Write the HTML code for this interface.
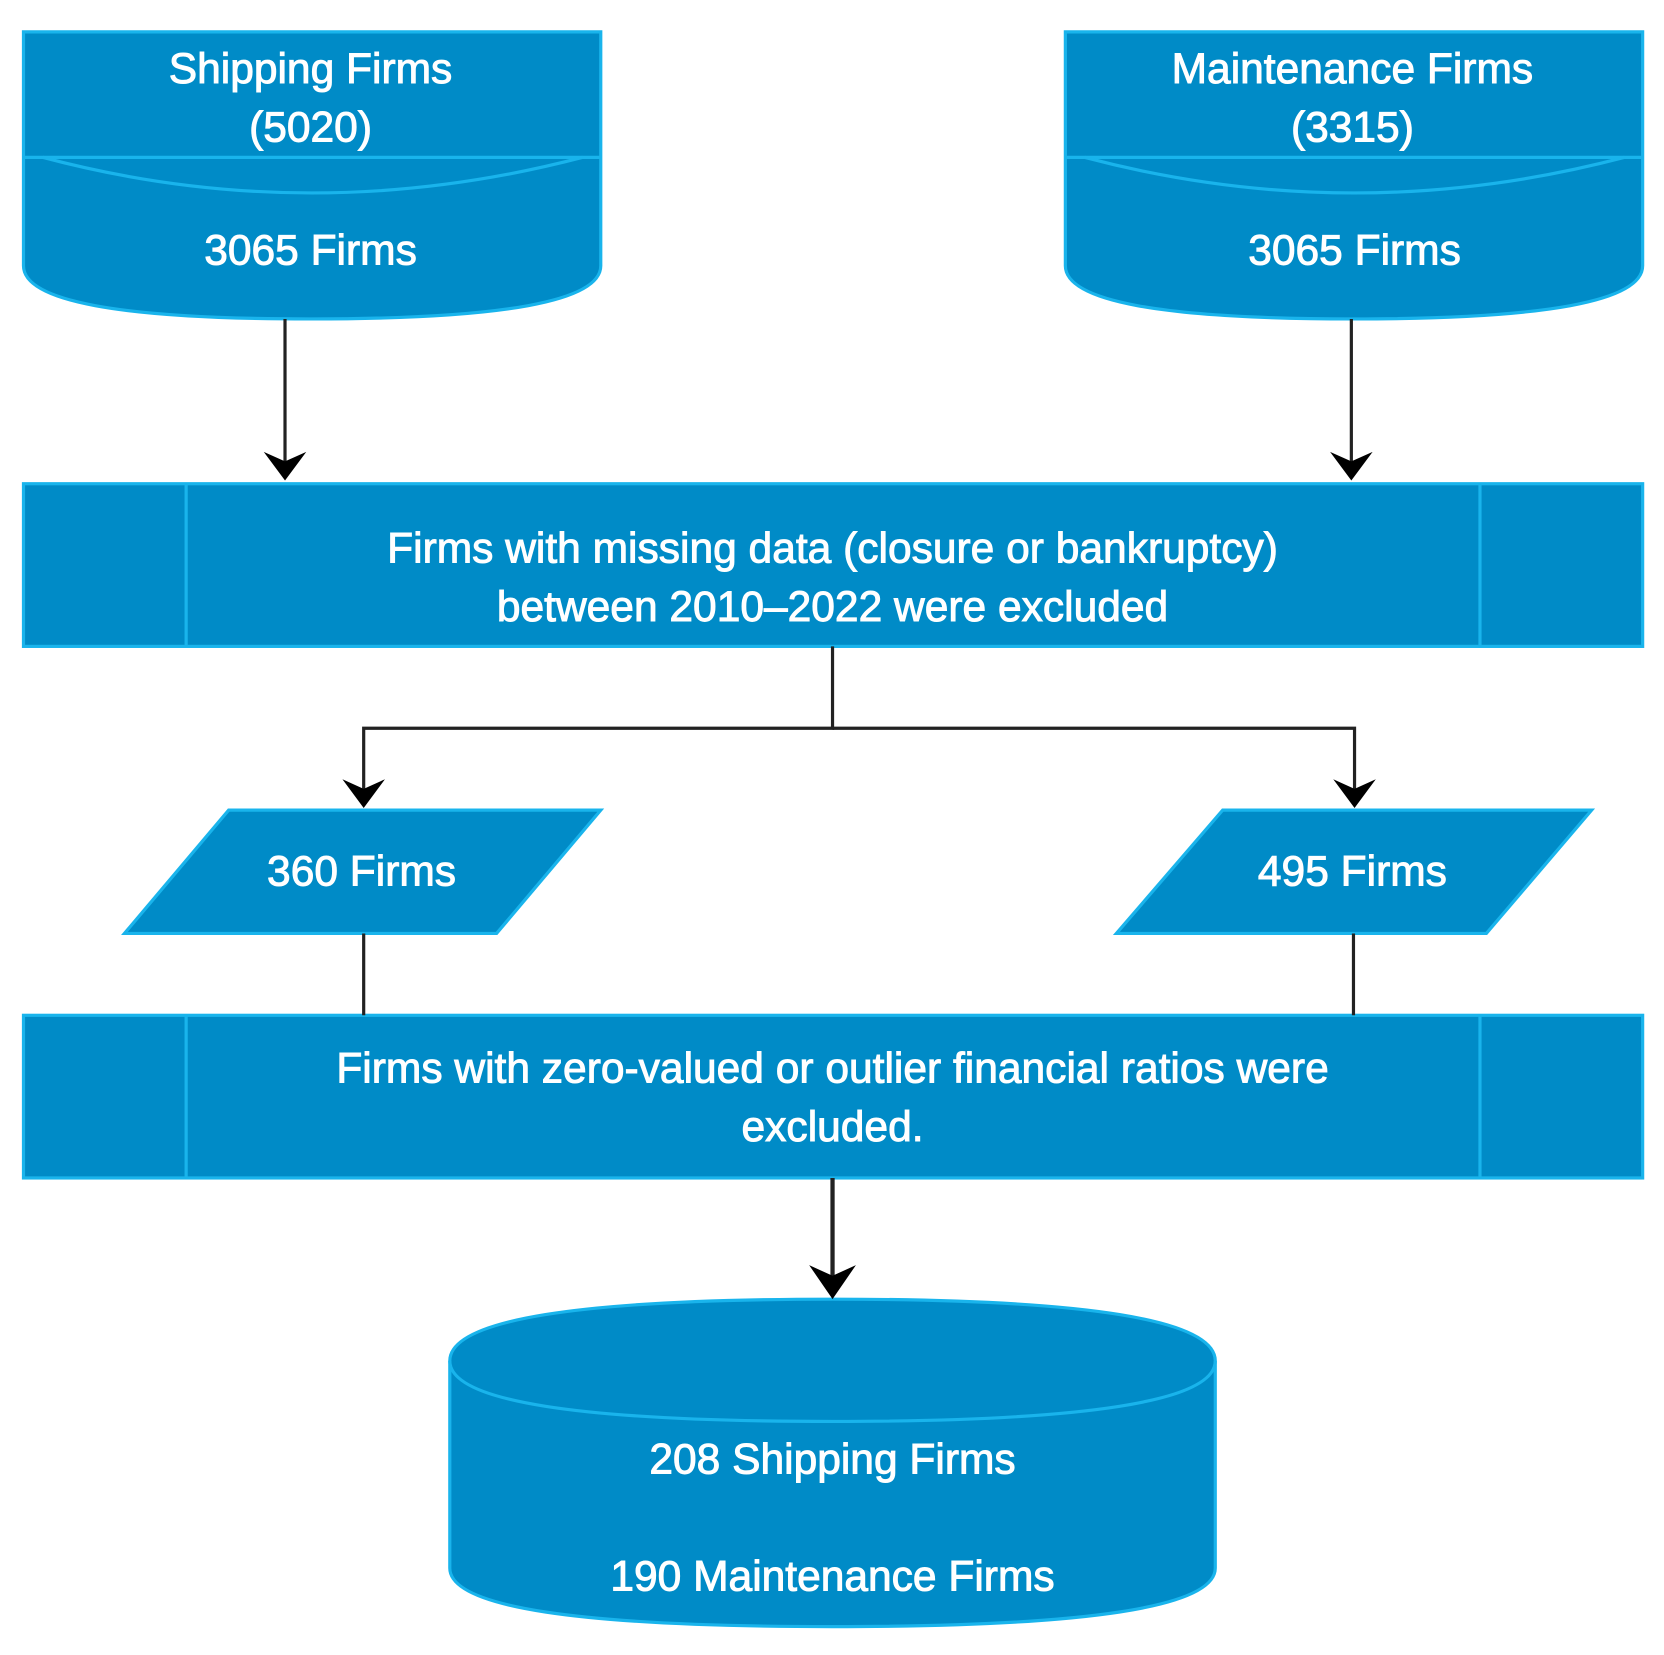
<!DOCTYPE html>
<html><head><meta charset="utf-8"><style>html,body{margin:0;padding:0;background:#fff}</style></head>
<body>
<svg width="1664" height="1650" viewBox="0 0 1565 1552" xmlns="http://www.w3.org/2000/svg">
<defs>
<marker id="ah" markerWidth="10" markerHeight="10" refX="5" refY="8" orient="auto" markerUnits="userSpaceOnUse" viewBox="0 0 10 10">
</marker>
</defs>
<g fill="#008bc7" stroke="#19b4ec" stroke-width="3">
<!-- top left -->
<path d="M22 30 H565 V250 Q565 300 292 300 Q22 300 22 250 Z"/>
<path d="M22 148 H565" fill="none"/>
<path d="M40 148 Q292 215 548 148" fill="none"/>
<!-- top right -->
<path d="M1002 30 H1545 V250 Q1545 300 1273 300 Q1002 300 1002 250 Z"/>
<path d="M1002 148 H1545" fill="none"/>
<path d="M1020 148 Q1273 215 1528 148" fill="none"/>
<!-- process 1 -->
<rect x="22" y="455" width="1523" height="153"/>
<line x1="175" y1="455" x2="175" y2="608"/>
<line x1="1392" y1="455" x2="1392" y2="608"/>
<!-- parallelograms -->
<polygon points="215,762 565,762 467,878 117,878"/>
<polygon points="1150,762 1497,762 1398,878 1050,878"/>
<!-- process 2 -->
<rect x="22" y="955" width="1523" height="153"/>
<line x1="175" y1="955" x2="175" y2="1108"/>
<line x1="1392" y1="955" x2="1392" y2="1108"/>
<!-- cylinder -->
<path d="M423 1280 Q423 1222 783 1222 Q1143 1222 1143 1280 V1475 Q1143 1530 783 1530 Q423 1530 423 1475 Z"/>
<path d="M423 1280 Q423 1337 783 1337 Q1143 1337 1143 1280" fill="none"/>
</g>
<g stroke="#222" stroke-width="3" fill="none">
<line x1="268" y1="300" x2="268" y2="440"/>
<line x1="1271" y1="300" x2="1271" y2="440"/>
<polyline points="783,608 783,685 342,685 342,745"/>
<polyline points="783,685 1274,685 1274,745"/>
<line x1="342" y1="878" x2="342" y2="955"/>
<line x1="1273" y1="878" x2="1273" y2="955"/>
<line x1="783" y1="1108" x2="783" y2="1205" stroke-width="4"/>
</g>
<g fill="#000">
<polygon points="248,425 268,452 288,425 268,434"/>
<polygon points="1251,425 1271,452 1291,425 1271,434"/>
<polygon points="322,733 342,760 362,733 342,742"/>
<polygon points="1254,733 1274,760 1294,733 1274,742"/>
<polygon points="761,1190 783,1222 805,1190 783,1200"/>
</g>
<g fill="#fff" stroke="#fff" stroke-width="0.9" font-family="Liberation Sans, Arial, sans-serif" font-size="40" text-anchor="middle">
<text x="292" y="78">Shipping Firms</text>
<text x="292" y="133">(5020)</text>
<text x="292" y="249">3065 Firms</text>
<text x="1272" y="78">Maintenance Firms</text>
<text x="1272" y="133">(3315)</text>
<text x="1274" y="249">3065 Firms</text>
<text x="783" y="529">Firms with missing data (closure or bankruptcy)</text>
<text x="783" y="584">between 2010–2022 were excluded</text>
<text x="340" y="833">360 Firms</text>
<text x="1272" y="833">495 Firms</text>
<text x="783" y="1018">Firms with zero-valued or outlier financial ratios were</text>
<text x="783" y="1073">excluded.</text>
<text x="783" y="1386">208 Shipping Firms</text>
<text x="783" y="1496">190 Maintenance Firms</text>
</g>
</svg>
</body></html>
